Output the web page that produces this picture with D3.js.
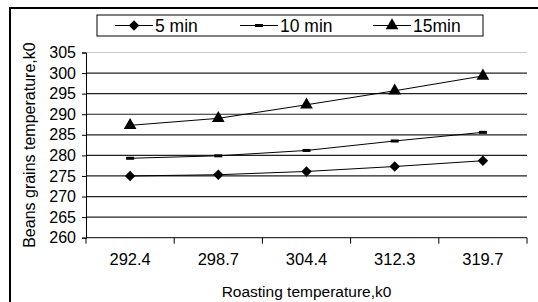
<!DOCTYPE html>
<html lang="en">
<head>
    <meta charset="UTF-8">
    <title>Beans grains temperature</title>
    <script src="https://d3js.org/d3.v7.min.js"></script>
    <style>
        body { margin: 0; background: #fff; }
        text { font-family: "Liberation Sans", Arial, sans-serif; fill: #000; }
    </style>
</head>
<body>
    <svg width="538" height="302" id="mainsvg"></svg>
    <script>
        // data
        const categories = ['292.4', '298.7', '304.4', '312.3', '319.7'];
        const min5 = [275.0, 275.3, 276.1, 277.3, 278.7];
        const min10 = [279.3, 279.9, 281.2, 283.5, 285.6];
        const min15 = [287.3, 289.0, 292.3, 295.7, 299.3];
        const yTicks = [260, 265, 270, 275, 280, 285, 290, 295, 300, 305];
        const seriesNames = ['5 min', '10 min', '15min'];

        const svg = d3.select('#mainsvg');
        const margin = { top: 52.5, right: 11, bottom: 64.3, left: 86 };
        const width = +svg.attr('width');
        const height = +svg.attr('height');
        const innerWidth = width - margin.left - margin.right;
        const innerHeight = height - margin.top - margin.bottom;

        // outer frame (only left and top visible)
        svg.append('path')
            .attr('d', `M10,${height} L10,8 L${width},8`)
            .attr('fill', 'none').attr('stroke', '#000').attr('stroke-width', 2);

        const xScale = d3.scaleBand().domain(categories).range([0, innerWidth]).padding(0);
        const yScale = d3.scaleLinear().domain([260, 305]).range([innerHeight, 0]);

        const g = svg.append('g').attr('transform', `translate(${margin.left},${margin.top})`);

        // gridlines
        g.selectAll('.grid').data(yTicks.slice(1)).enter().append('line')
            .attr('x1', 0).attr('x2', innerWidth)
            .attr('y1', d => yScale(d)).attr('y2', d => yScale(d))
            .attr('stroke', d => d === 305 ? '#c8c8c8' : '#222')
            .attr('stroke-width', 1.2);

        // y axis
        const yAxis = d3.axisLeft(yScale).tickValues(yTicks).tickSize(4).tickPadding(6);
        const yAxisGroup = g.append('g').call(yAxis);
        yAxisGroup.selectAll('text').style('font-size', '16px');
        yAxisGroup.selectAll('path, line').attr('stroke', '#000');

        // x axis with ticks on the band edges
        const xAxis = d3.axisBottom(xScale).tickSize(0).tickPadding(16);
        const xAxisGroup = g.append('g').attr('transform', `translate(0,${innerHeight})`).call(xAxis);
        xAxisGroup.select('.domain').remove();
        xAxisGroup.selectAll('text').style('font-size', '16.5px');
        g.append('line').attr('x1', 0).attr('x2', innerWidth)
            .attr('y1', innerHeight).attr('y2', innerHeight).attr('stroke', '#000');
        const edges = categories.map(c => xScale(c)).concat([innerWidth]);
        g.selectAll('.xt').data(edges).enter().append('line')
            .attr('x1', d => d).attr('x2', d => d)
            .attr('y1', innerHeight).attr('y2', innerHeight + 6)
            .attr('stroke', '#000');

        // axis titles
        svg.append('text')
            .attr('x', margin.left + innerWidth / 2).attr('y', 297)
            .attr('text-anchor', 'middle').style('font-size', '15.5px')
            .text('Roasting temperature,k0');
        svg.append('text')
            .attr('transform', `translate(35,${margin.top + innerHeight / 2}) rotate(-90)`)
            .attr('text-anchor', 'middle').style('font-size', '16px')
            .text('Beans grains temperature,k0');

        // markers
        const diamond = d3.symbol().type(d3.symbolDiamond2).size(70);
        const triangle = d3.symbol().type(d3.symbolTriangle).size(70);
        const drawMarker = (sel, i) => {
            if (i === 0) sel.append('path').attr('d', diamond).attr('fill', '#000');
            else if (i === 1) sel.append('rect').attr('x', -4).attr('y', -1.5)
                .attr('width', 8).attr('height', 3).attr('fill', '#000');
            else sel.append('path').attr('d', triangle).attr('fill', '#000');
        };

        const series = [min5, min10, min15];
        const line = d3.line()
            .x((d, i) => xScale(categories[i]) + xScale.bandwidth() / 2)
            .y(d => yScale(d));

        series.forEach((values, si) => {
            g.append('path').datum(values)
                .attr('d', line)
                .attr('fill', 'none').attr('stroke', '#000').attr('stroke-width', 1);
            values.forEach((v, i) => {
                const m = g.append('g').attr('transform',
                    `translate(${xScale(categories[i]) + xScale.bandwidth() / 2},${yScale(v)})`);
                drawMarker(m, si);
            });
        });

        // legend
        const legend = svg.append('g');
        legend.append('rect').attr('x', 97).attr('y', 15).attr('width', 386).attr('height', 21)
            .attr('fill', '#fff').attr('stroke', '#000').attr('stroke-width', 1);
        const legendX = [115, 240, 373];
        seriesNames.forEach((name, i) => {
            const item = legend.append('g').attr('transform', `translate(${legendX[i]},25.5)`);
            item.append('line').attr('x1', 0).attr('x2', 38).attr('y1', 0).attr('y2', 0)
                .attr('stroke', '#000');
            const m = item.append('g').attr('transform', 'translate(19,0)');
            drawMarker(m, i);
            item.append('text').attr('x', 40).attr('y', 0).attr('dy', '0.35em')
                .style('font-size', '17.5px').text(name);
        });
    </script>
</body>
</html>
